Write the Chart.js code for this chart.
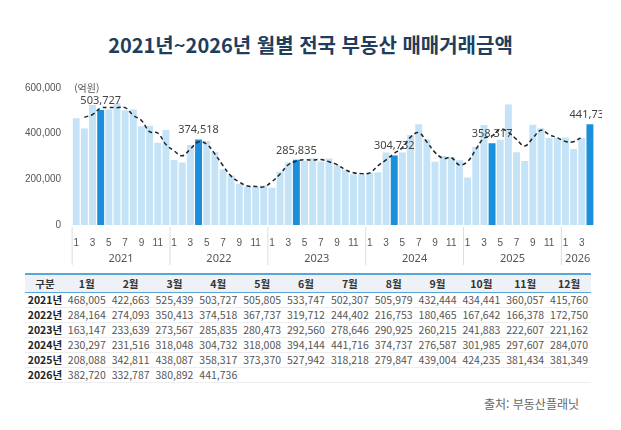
<!DOCTYPE html>
<html lang="ko">
<head>
<meta charset="UTF-8">
<title>월별 전국 부동산 매매거래금액</title>
<style>
    body { margin: 0; width: 621px; height: 430px; background: #fff; font-family: "Noto Sans CJK KR", "Noto Sans", sans-serif; color: #333; }
    h1 { margin: 0; padding-top: 30px; text-align: center; font-size: 20px; color: #1f3d5c; font-weight: 700; }
    .chart-box { position: relative; width: 580px; height: 192px; margin: 20px 0 0 22px; }
    table { border-collapse: collapse; margin: 2px 0 0 25px; width: 566px; font-size: 10.5px; }
    th { background: #eef1f5; border-top: 2px solid #5aa6d8; border-bottom: 1px solid #5aa6d8; font-weight: 700; padding: 1px 0; }
    td { text-align: center; color: #555; padding: 0; border-bottom: 1px solid #eee; line-height: 14px; }
    td:first-child { font-weight: 700; color: #222; }
    .source { position: absolute; right: 42px; top: 395px; font-size: 12px; color: #666; }
</style>
<script src="https://cdn.jsdelivr.net/npm/chart.js"></script>
</head>
<body>
<h1>2021년~2026년 월별 전국 부동산 매매거래금액</h1>
<div class="chart-box"><canvas id="chart"></canvas></div>
<table id="tbl"></table>
<div class="source">출처: 부동산플래닛</div>
<script>
const years = ['2021', '2022', '2023', '2024', '2025', '2026'];
const monthNames = ['1월','2월','3월','4월','5월','6월','7월','8월','9월','10월','11월','12월'];
const v2021 = [468005, 422663, 525439, 503727, 505805, 533747, 502307, 505979, 432444, 434441, 360057, 415760];
const v2022 = [284164, 274093, 350413, 374518, 367737, 319712, 244402, 216753, 180465, 167642, 166378, 172750];
const v2023 = [163147, 233639, 273567, 285835, 280473, 292560, 278646, 290925, 260215, 241883, 222607, 221162];
const v2024 = [230297, 231516, 318048, 304732, 318008, 394144, 441716, 374737, 276587, 301985, 297607, 284070];
const v2025 = [208088, 342811, 438087, 358317, 373370, 527942, 318218, 279847, 439004, 424235, 381434, 381349];
const v2026 = [382720, 332787, 380892, 441736];
// dashed trend line
const trend = [null, 472000, 484000, 512000, 514000, 514000, 514000, 480000, 458000, 409000, 403000, 353000,
    325000, 303000, 333000, 364000, 354000, 311000, 260000, 214000, 188000, 171000, 169000, 167000,
    190000, 223000, 264000, 280000, 286000, 284000, 287000, 277000, 264000, 242000, 229000, 225000,
    228000, 260000, 285000, 314000, 339000, 385000, 404000, 364000, 318000, 292000, 295000, 263000,
    278000, 330000, 380000, 390000, 420000, 406000, 375000, 346000, 381000, 415000, 396000, 382000,
    366000, 365000, 385000, null];

const yearRows = [v2021, v2022, v2023, v2024, v2025, v2026];
const values = [].concat(...yearRows);
const labels = [];
yearRows.forEach((row, y) => row.forEach((_, m) => labels.push(years[y] + '-' + (m + 1))));
const colors = labels.map((l, i) => (i % 12 === 3) ? '#1b8fdb' : '#c4e3f7');

// table
let html = '<tr><th>구분</th>' + monthNames.map(m => '<th>' + m + '</th>').join('') + '</tr>';
yearRows.forEach((row, y) => {
    html += '<tr><td>' + years[y] + '년</td>';
    for (let m = 0; m < 12; m++) html += '<td>' + (row[m] !== undefined ? row[m].toLocaleString('en-US') : '') + '</td>';
    html += '</tr>';
});
document.getElementById('tbl').innerHTML = html;

const extras = {
    id: 'extras',
    afterDraw(chart) {
        const ctx = chart.ctx, x = chart.scales.x, y = chart.scales.y;
        ctx.save();
        ctx.font = '10px "Noto Sans CJK KR", sans-serif';
        ctx.fillStyle = '#555';
        ctx.textAlign = 'left';
        ctx.fillText('(억원)', x.left + 2, y.getPixelForValue(600000) + 4);
        // value labels above April bars
        ctx.textAlign = 'center';
        ctx.font = '11px "Noto Sans", sans-serif';
        ctx.fillStyle = '#444';
        values.forEach((v, i) => {
            if (i % 12 === 3) ctx.fillText(v.toLocaleString('en-US'), x.getPixelForValue(i), y.getPixelForValue(v) - 6);
        });
        // year row + separators
        const step = x.getPixelForValue(1) - x.getPixelForValue(0);
        ctx.strokeStyle = '#ddd';
        ctx.fillStyle = '#555';
        years.forEach((yr, k) => {
            const first = k * 12, last = Math.min(first + 11, values.length - 1);
            const left = x.getPixelForValue(first) - step / 2;
            const right = x.getPixelForValue(last) + step / 2;
            ctx.beginPath();
            ctx.moveTo(left, y.bottom + 2); ctx.lineTo(left, y.bottom + 40);
            ctx.stroke();
            ctx.fillText(yr, (left + right) / 2, y.bottom + 37);
        });
        ctx.restore();
    }
};

new Chart(document.getElementById('chart'), {
    type: 'bar',
    data: {
        labels: labels,
        datasets: [
            { type: 'line', data: trend, borderColor: '#222', borderDash: [4, 3], borderWidth: 1.5, pointRadius: 0, tension: 0.4, fill: false },
            { data: values, backgroundColor: colors, categoryPercentage: 1, barPercentage: 0.85 }
        ]
    },
    options: {
        responsive: true, maintainAspectRatio: false, animation: false,
        layout: { padding: { top: 8, bottom: 0, right: 8 } },
        plugins: { legend: { display: false }, tooltip: { enabled: false } },
        scales: {
            x: {
                grid: { display: false },
                border: { display: false },
                ticks: {
                    autoSkip: false, maxRotation: 0, color: '#555', font: { size: 10 }, padding: 4,
                    callback: (val, i) => (i % 12) % 2 === 0 ? String(i % 12 + 1) : ''
                },
                afterFit: s => { s.height = 46; }
            },
            y: {
                min: 0, max: 600000,
                grid: { display: false },
                border: { display: false },
                ticks: { stepSize: 200000, color: '#555', font: { size: 10 }, callback: v => v.toLocaleString('en-US') }
            }
        }
    },
    plugins: [extras]
});
</script>
</body>
</html>
